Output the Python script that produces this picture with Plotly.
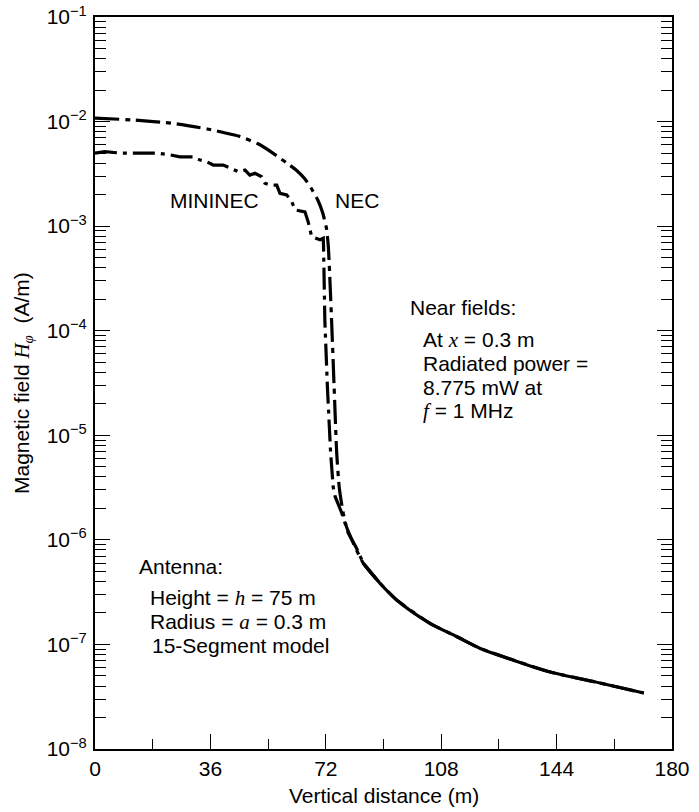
import plotly.graph_objects as go

# ---------------- data ----------------
x_tick_vals = [0, 36, 72, 108, 144, 180]
x_minor_vals = [18, 54, 90, 126, 162]
y_tick_vals = [1e-1, 1e-2, 1e-3, 1e-4, 1e-5, 1e-6, 1e-7, 1e-8]
y_tick_text = ["10<sup>\u22121</sup>", "10<sup>\u22122</sup>", "10<sup>\u22123</sup>",
               "10<sup>\u22124</sup>", "10<sup>\u22125</sup>", "10<sup>\u22126</sup>",
               "10<sup>\u22127</sup>", "10<sup>\u22128</sup>"]

nec_x = [0, 12, 24.4, 35, 45.2, 51, 55.6, 60, 63, 65.5, 67.5, 69.5, 71, 72.2, 72.8,
         73.8, 74.6, 75.4, 76.2, 77.4, 78.5, 81.1, 83.7, 88.9, 94.1, 104.5, 112.8,
         120, 130, 142, 157.5, 171.2]
nec_h = [1.08e-2, 1.035e-2, 9.6e-3, 8.5e-3, 7.2e-3, 6.1e-3, 4.97e-3, 3.98e-3, 3.39e-3,
         2.82e-3, 2.29e-3, 1.78e-3, 1.35e-3, 9.55e-4, 6.31e-4,
         1.26e-4, 2.88e-5, 6.76e-6, 3.16e-6, 1.82e-6, 1.32e-6, 8.6e-7, 5.97e-7, 3.85e-7,
         2.66e-7, 1.59e-7, 1.19e-7, 9.2e-8, 7.16e-8, 5.45e-8, 4.28e-8, 3.43e-8]

mininec_x = [0, 3, 8, 19.3, 23.4, 26.5, 30.7, 32.8, 34.8, 36.9, 40.0, 42.1, 44.7, 46.8,
             48.3, 49.9, 52.0, 53.0, 54.6, 56.7, 57.7, 59.8, 61.4, 62.4, 65.5, 66.5,
             67.6, 70.2, 71.2, 71.3, 71.7, 72.5, 73.5, 74.3, 74.9, 77.0, 79.0, 81.6,
             83.7, 88.9]
mininec_h = [5.0e-3, 5.15e-3, 5.0e-3, 5.0e-3, 4.8e-3, 4.6e-3, 4.6e-3, 4.28e-3, 4.13e-3,
             3.84e-3, 3.84e-3, 3.57e-3, 3.32e-3, 3.44e-3, 3.08e-3, 3.2e-3, 2.97e-3,
             2.57e-3, 2.47e-3, 2.47e-3, 2.06e-3, 1.99e-3, 1.71e-3, 1.43e-3, 1.37e-3,
             1.10e-3, 7.9e-4, 7.4e-4, 7.65e-4, 6.3e-4, 1.26e-4, 2.9e-5, 6.8e-6, 3.2e-6,
             2.6e-6, 1.8e-6, 1.16e-6, 8.3e-7, 5.97e-7, 3.85e-7]

# far-field region where both models coincide (drawn solid)
common_from = 83.7

# ---------------- layout helpers ----------------
W, H = 699, 812
L, R, T, B = 95, 672, 17, 749   # plot area in page pixels
FONT = "Liberation Sans, Arial, Helvetica, sans-serif"
SERIF = "Liberation Serif, DejaVu Serif, serif"
FS = 21


def pxx(v):
    return (v - L) / (R - L)


def pyy(v):
    return (B - v) / (B - T)


fig = go.Figure()

fig.add_trace(go.Scatter(
    x=nec_x, y=nec_h, mode="lines", name="NEC",
    line=dict(color="black", width=3.2, dash="24px,6px,5px,6px",
              shape="spline", smoothing=0.5),
))
fig.add_trace(go.Scatter(
    x=mininec_x, y=mininec_h, mode="lines", name="MININEC",
    line=dict(color="black", width=3.2, dash="22px,6px,4px,6px"),
))
tail = [(x, h) for x, h in zip(nec_x, nec_h) if x >= common_from]
fig.add_trace(go.Scatter(
    x=[p[0] for p in tail], y=[p[1] for p in tail], mode="lines", name="common",
    line=dict(color="black", width=3.2, shape="spline", smoothing=0.8),
))


def label(text, xp, yp, anchor="left", size=FS, angle=0):
    fig.add_annotation(
        x=pxx(xp), y=pyy(yp), xref="paper", yref="paper", text=text,
        showarrow=False, xanchor=anchor, yanchor="middle", textangle=angle,
        font=dict(family=FONT, size=size, color="black"),
    )


def it(s):
    return f"<span style='font-family:{SERIF}'><i>{s}</i></span>"


label("MININEC", 214, 200.5, anchor="center")
label("NEC", 356.5, 200.5, anchor="center")
label("Near fields:", 408, 307)
label(f"At {it('x')} = 0.3 m", 421, 340)
label("Radiated power =", 421, 363.5)
label("8.775 mW at", 421, 387)
label(f"{it('f')} = 1 MHz", 421, 410.5)
label("Antenna:", 137, 566)
label(f"Height = {it('h')} = 75 m", 148, 598)
label(f"Radius = {it('a')} = 0.3 m", 148, 621.7)
label("15-Segment model", 150, 645)

label("Vertical distance (m)", 383.5, 795, anchor="center")
label(f"Magnetic field {it('H')}<sub>{it('φ')}</sub>  (A/m)", 23, 383, anchor="center", angle=-90)

fig.update_layout(
    width=W, height=H, autosize=False,
    margin=dict(l=L, r=W - R, t=T, b=H - B, pad=0),
    paper_bgcolor="white", plot_bgcolor="white",
    showlegend=False,
    font=dict(family=FONT, size=FS, color="black"),
)

fig.update_xaxes(
    range=[0, 180], tickvals=x_tick_vals, ticks="inside", ticklen=15, tickwidth=1,
    tickcolor="black", showline=True, linewidth=2, linecolor="black", mirror=True,
    showgrid=False, zeroline=False, tickfont=dict(size=FS), automargin=False,
    ticklabeloverflow="allow",
    minor=dict(tickvals=x_minor_vals, ticks="inside", ticklen=10, tickwidth=1,
               tickcolor="black", showgrid=False),
)
fig.update_yaxes(
    type="log", range=[-8, -1], tickvals=y_tick_vals, ticktext=y_tick_text,
    ticks="inside", ticklen=15, tickwidth=1, tickcolor="black",
    showline=True, linewidth=2, linecolor="black", mirror="ticks",
    showgrid=False, zeroline=False, tickfont=dict(size=FS), ticklabelstandoff=2,
    automargin=False, ticklabeloverflow="allow",
    minor=dict(dtick="D1", ticks="inside", ticklen=11, tickwidth=1,
               tickcolor="black", showgrid=False),
)

# place the figure flush with the page corner (no default 8px body margin)
fig.write_html("out.html", config={"displayModeBar": False},
               post_script="document.body.style.margin='0px';")
